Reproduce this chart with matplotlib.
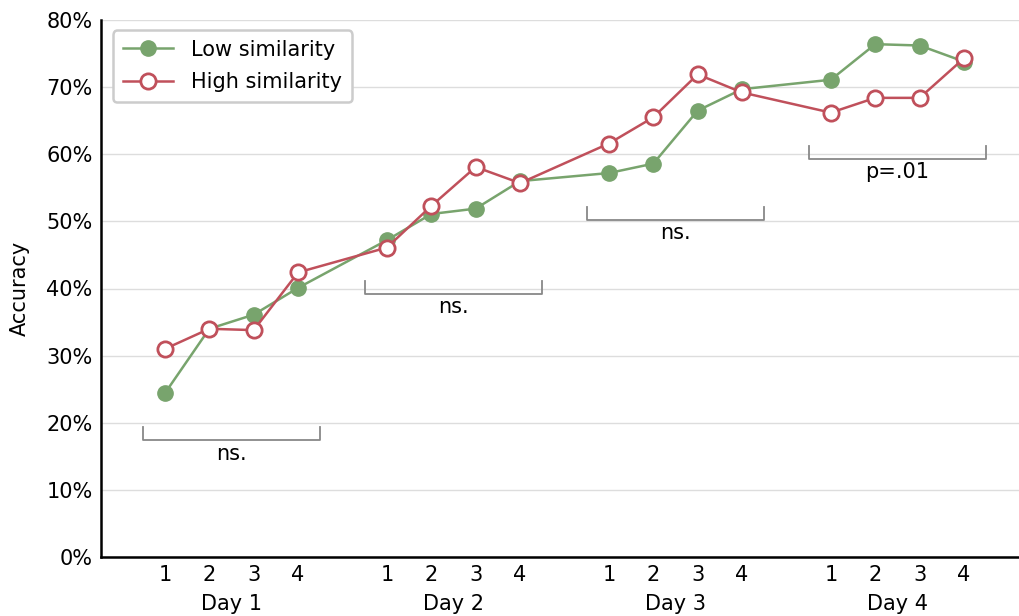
import matplotlib.pyplot as plt
from matplotlib.ticker import PercentFormatter
import numpy as np

# session positions: 4 sessions per day, one empty slot between days
days = ["Day 1", "Day 2", "Day 3", "Day 4"]
session_labels = ["1", "2", "3", "4"]

low_sim = [24.4, 34.0, 36.1, 40.1,
           47.2, 51.1, 51.9, 56.0,
           57.2, 58.6, 66.5, 69.7,
           71.1, 76.4, 76.2, 73.8]
high_sim = [31.0, 34.0, 33.8, 42.4,
            46.1, 52.3, 58.1, 55.7,
            61.6, 65.5, 71.9, 69.2,
            66.2, 68.4, 68.4, 74.3]

# significance brackets per day (height in %, label)
bracket_y = [17.4, 39.2, 50.2, 59.3]
bracket_txt = ["ns.", "ns.", "ns.", "p=.01"]

green = "#78a46d"
red = "#c0505b"

x = np.array([d * 5 + s + 1 for d in range(4) for s in range(4)])

fig = plt.figure(figsize=(10.2, 6.16), dpi=100)
ax = fig.add_axes([101 / 1020, 1 - 557 / 616, 1 - 101 / 1020, (557 - 20) / 616])

ax.plot(x, low_sim, "-o", color=green, lw=1.8, ms=11, label="Low similarity", zorder=3)
ax.plot(x, high_sim, "-o", color=red, lw=1.8, ms=11, mfc="white", mew=2,
        label="High similarity", zorder=4)

for d in range(4):
    x0, x1 = d * 5 + 0.5, d * 5 + 4.5
    y = bracket_y[d]
    ax.plot([x0, x0, x1, x1], [y + 1.9, y, y, y + 1.9], color="#888888", lw=1.3, zorder=2)
    ax.text((x0 + x1) / 2, y - 0.5, bracket_txt[d], ha="center", va="top", fontsize=15)

ax.set_xlim(-0.44, 20.26)
ax.set_ylim(0, 80)
ax.set_yticks(np.arange(0, 81, 10))
ax.yaxis.set_major_formatter(PercentFormatter(decimals=0))
ax.set_xticks(x)
ax.set_xticklabels(session_labels * 4)
ax.tick_params(length=0, labelsize=15, pad=6)
ax.grid(axis="y", color="#dddddd", lw=1)
ax.set_axisbelow(True)

for s in ["top", "right"]:
    ax.spines[s].set_visible(False)
for s in ["left", "bottom"]:
    ax.spines[s].set_linewidth(1.8)
    ax.spines[s].set_color("black")

trans = ax.get_xaxis_transform()
for d, name in enumerate(days):
    ax.text(d * 5 + 2.5, -0.088, name, transform=trans, ha="center", va="center", fontsize=15)

ax.set_ylabel("Accuracy", fontsize=15, labelpad=12)

leg = ax.legend(loc="upper left", bbox_to_anchor=(0.002, 1.0), fontsize=15,
                framealpha=1, edgecolor="#cccccc", borderpad=0.45, handlelength=2.4,
                labelspacing=0.6, handletextpad=0.9)
leg.get_frame().set_linewidth(1.8)

fig.savefig("out.png", dpi=100)
